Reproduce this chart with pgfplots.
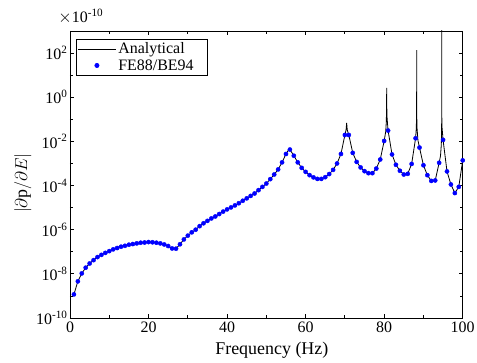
\documentclass[border=0pt]{standalone}
\usepackage{fontspec}
\setmainfont{Liberation Serif}
\usepackage{pgfplots}
\pgfplotsset{compat=1.18}
\pgfplotsset{
  linelegend/.style={legend image code/.code={\draw[##1] (0bp,0bp) -- (38bp,0bp);}},
  marklegend/.style={legend image code/.code={\draw[mark repeat=2, mark phase=2, ##1] plot coordinates {(0bp,0bp) (19bp,0bp) (38bp,0bp)};}},
}
\begin{document}
\begin{tikzpicture}
\begin{axis}[
  scale only axis,
  width=392.7bp, height=287bp,
  xmin=0, xmax=100,
  ymode=log, ymin=1e-10, ymax=1e3,
  scaled y ticks=false,
  xtick={0,20,40,60,80,100},
  minor xtick={10,30,50,70,90},
  ytick={1e-10,1e-8,1e-6,1e-4,1e-2,1e0,1e2},
  yticklabels={10\textsuperscript{-10},10\textsuperscript{-8},10\textsuperscript{-6},10\textsuperscript{-4},10\textsuperscript{-2},10\textsuperscript{0},10\textsuperscript{2}},
  minor ytick={1e-9,1e-7,1e-5,1e-3,1e-1,1e1},
  tick align=inside,
  major tick length=4bp, minor tick length=2.7bp,
  axis line style={line width=0.9bp},
  every tick/.style={black, line width=0.8bp},
  /pgf/number format/assume math mode=true,
  tick label style={font=\fontsize{16}{19}\selectfont},
  yticklabel style={xshift=1bp},
  xlabel={Frequency (Hz)},
  xlabel style={font=\fontsize{18}{21}\selectfont, at={(axis description cs:0.514,-0.113)}, anchor=center},
  ylabel={$\left|\partial\mathrm{p}/\partial E\right|$},
  ylabel style={font=\fontsize{18}{21}\selectfont, at={(axis description cs:-0.12,0.47)}, anchor=center},
  legend style={at={(axis description cs:0.0145,0.972)}, anchor=north west, font=\fontsize{16}{19}\selectfont, draw=black, line width=0.7bp, inner sep=1.5bp, row sep=0bp},
  legend cell align=left,
  clip mode=individual,
]
\addplot[black, line width=0.8bp, mark=none, linelegend] coordinates {
(1,1.175e-9) (2,4.571e-9) (3,1.047e-8) (4,1.905e-8) (5,2.951e-8) (6,4.169e-8) (7,5.754e-8) (8,7.244e-8) (9,8.913e-8) (10,1.072e-7)
(11,1.288e-7) (12,1.479e-7) (13,1.698e-7) (14,1.862e-7) (15,2.089e-7) (16,2.239e-7) (17,2.399e-7) (18,2.570e-7) (19,2.630e-7) (20,2.754e-7)
(21,2.692e-7) (22,2.570e-7) (23,2.399e-7) (24,2.138e-7) (25,1.820e-7) (26,1.413e-7) (26.5,1.318e-7) (27,1.380e-7) (28,2.188e-7) (29,3.631e-7) (30,5.370e-7)
(31,7.586e-7) (32,1.000e-6) (33,1.445e-6) (34,1.950e-6) (35,2.512e-6) (36,3.236e-6) (37,3.981e-6) (38,5.129e-6) (39,6.607e-6) (40,8.318e-6)
(41,1.023e-5) (42,1.259e-5) (43,1.585e-5) (44,2.042e-5) (45,2.630e-5) (46,3.388e-5) (47,4.365e-5) (48,6.166e-5) (49,8.710e-5) (50,1.230e-4)
(51,1.950e-4) (52,3.162e-4) (53,5.370e-4) (54,1.122e-3) (55,2.692e-3) (55.85,4.677e-3) (56,4.266e-3) (57,2.239e-3) (58,1.122e-3) (59,6.310e-4) (60,4.169e-4)
(61,2.951e-4) (62,2.344e-4) (63,1.995e-4) (64,1.995e-4) (65,2.399e-4) (66,3.311e-4) (67,5.129e-4) (68,1.000e-3) (69,2.692e-3) (70,1.950e-2)
(70.3,3.311e-2) (70.45,6.918e-2) (70.6,3.311e-2)
(71,1.950e-2) (72,3.020e-3) (73,1.175e-3) (74,6.607e-4) (75,4.467e-4) (76,3.631e-4) (77,3.631e-4) (78,5.888e-4) (79,1.514e-3) (80,1.047e-2)
(80.4,2.818e-2) (80.55,7.943e-2) (80.6,2.512e-1) (80.63,1.0) (80.64,2.630) (80.65,1.0) (80.68,3.162e-1) (80.75,1.122e-1) (80.88,5.623e-2)
(81,3.090e-2) (82,2.570e-3) (83,8.710e-4) (84,4.677e-4) (85,3.162e-4) (86,3.388e-4) (87,9.550e-4) (88,1.380e-2)
(88.18,3.890e-2) (88.25,1.259e-1) (88.27,3.981e-1) (88.28,134.9) (88.29,3.981e-1) (88.31,1.259e-1) (88.38,3.802e-2) (88.6,1.122e-2)
(89,5.248e-3) (90,8.318e-4)
(91,2.951e-4) (92,1.622e-4) (93,1.698e-4) (94,1.072e-3)
(94.35,2.239e-3) (94.55,6.918e-3) (94.62,2.344e-2) (94.64,6.918e-2) (94.65,3162) (94.66,4.074e-1) (94.68,1.380e-1) (94.75,4.074e-2)
(95,1.175e-2) (96,4.365e-4) (97,1.122e-4) (98,4.571e-5) (99,8.710e-5) (100,1.380e-3)
};
\addlegendentry{Analytical\hspace*{10bp}}
\addplot[only marks, mark=*, mark size=2.1bp, color=blue, mark options={fill=blue, draw=blue}, marklegend] coordinates {
(1,1.175e-9) (2,4.571e-9) (3,1.047e-8) (4,1.905e-8) (5,2.951e-8) (6,4.169e-8) (7,5.754e-8) (8,7.244e-8) (9,8.913e-8) (10,1.072e-7)
(11,1.288e-7) (12,1.479e-7) (13,1.698e-7) (14,1.862e-7) (15,2.089e-7) (16,2.239e-7) (17,2.399e-7) (18,2.570e-7) (19,2.630e-7) (20,2.754e-7)
(21,2.692e-7) (22,2.570e-7) (23,2.399e-7) (24,2.138e-7) (25,1.820e-7) (26,1.413e-7) (27,1.380e-7) (28,2.188e-7) (29,3.631e-7) (30,5.370e-7)
(31,7.586e-7) (32,1.000e-6) (33,1.445e-6) (34,1.950e-6) (35,2.512e-6) (36,3.236e-6) (37,3.981e-6) (38,5.129e-6) (39,6.607e-6) (40,8.318e-6)
(41,1.023e-5) (42,1.259e-5) (43,1.585e-5) (44,2.042e-5) (45,2.630e-5) (46,3.388e-5) (47,4.365e-5) (48,6.166e-5) (49,8.710e-5) (50,1.230e-4)
(51,1.950e-4) (52,3.162e-4) (53,5.370e-4) (54,1.122e-3) (55,2.692e-3) (56,4.266e-3) (57,2.239e-3) (58,1.122e-3) (59,6.310e-4) (60,4.169e-4)
(61,2.951e-4) (62,2.344e-4) (63,1.995e-4) (64,1.995e-4) (65,2.399e-4) (66,3.311e-4) (67,5.129e-4) (68,1.000e-3) (69,2.692e-3) (70,1.950e-2)
(71,1.950e-2) (72,3.020e-3) (73,1.175e-3) (74,6.607e-4) (75,4.467e-4) (76,3.631e-4) (77,3.631e-4) (78,5.888e-4) (79,1.514e-3) (80,1.047e-2)
(81,3.090e-2) (82,2.570e-3) (83,8.710e-4) (84,4.677e-4) (85,3.162e-4) (86,3.388e-4) (87,9.550e-4) (88,1.380e-2) (89,5.248e-3) (90,8.318e-4)
(91,2.951e-4) (92,1.622e-4) (93,1.698e-4) (94,1.072e-3) (95,1.175e-2) (96,4.365e-4) (97,1.122e-4) (98,4.571e-5) (99,8.710e-5) (100,1.380e-3)
};
\addlegendentry{FE88/BE94\hspace*{10bp}}
\end{axis}
\node[font=\fontsize{16}{19}\selectfont, anchor=base west, inner sep=0pt] at ([shift={(-11.7bp,295.5bp)}]current axis.south west) {$\times$10\textsuperscript{-10}};
\pgfresetboundingbox
\path[use as bounding box] ([shift={(-70bp,-45bp)}]current axis.south west) rectangle ++(477bp,363bp);
\end{tikzpicture}
\end{document}
